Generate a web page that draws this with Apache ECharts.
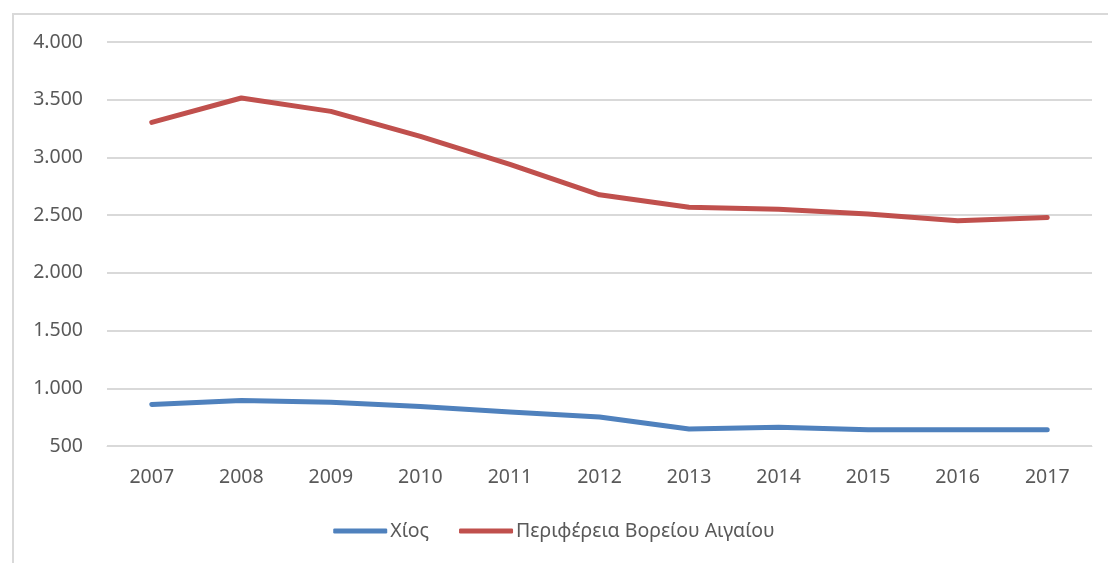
<!DOCTYPE html>
<html>
<head>
<meta charset="utf-8">
<script src="https://cdn.jsdelivr.net/npm/echarts@6/dist/echarts.min.js"></script>
<style>
  html, body { margin: 0; padding: 0; background: #fff; }
  #frame { position: absolute; left: 12px; top: 13px; right: -4px; bottom: -4px; border: 2px solid #d9d9d9; }
  #chart { position: absolute; left: 0; top: 0; width: 1108px; height: 563px; }
</style>
</head>
<body>
<div id="frame"></div>
<div id="chart"></div>
<script>
var years = ['2007', '2008', '2009', '2010', '2011', '2012', '2013', '2014', '2015', '2016', '2017'];
var chios = [860, 895, 880, 843, 794, 752, 648, 662, 640, 640, 640];
var northAegean = [3303, 3515, 3399, 3182, 2940, 2676, 2569, 2550, 2510, 2452, 2480];
var seriesNames = ['Χίος', 'Περιφέρεια Βορείου Αιγαίου'];

function fmt(v) {
    return String(v).replace(/\B(?=(\d{3})+(?!\d))/g, '.');
}

var myChart = echarts.init(document.getElementById('chart'));
var font = '"Noto Sans", sans-serif';
myChart.setOption({
    animation: false,
    grid: { left: 107, right: 16, top: 42, bottom: 117 },
    legend: {
        bottom: 17,
        left: 'center',
        itemWidth: 54,
        itemHeight: 5,
        itemGap: 30,
        icon: 'roundRect',
        textStyle: { color: '#595959', fontSize: 19.5, fontFamily: font, padding: [0, 0, 0, -2] },
        data: seriesNames
    },
    xAxis: {
        type: 'category',
        data: years,
        boundaryGap: true,
        axisLine: { lineStyle: { color: '#d9d9d9', width: 1 } },
        axisTick: { show: false },
        axisLabel: { color: '#595959', fontSize: 19.5, fontFamily: font, margin: 21 }
    },
    yAxis: {
        type: 'value',
        min: 500,
        max: 4000,
        interval: 500,
        axisLine: { show: false },
        axisTick: { show: false },
        axisLabel: { color: '#595959', fontSize: 19.5, fontFamily: font, margin: 24, formatter: fmt },
        splitLine: { lineStyle: { color: '#d9d9d9', width: 2 } }
    },
    series: [
        {
            name: seriesNames[0],
            type: 'line',
            data: chios,
            showSymbol: false,
            symbol: 'none',
            lineStyle: { color: '#4f81bd', width: 5, cap: 'round', join: 'round' },
            itemStyle: { color: '#4f81bd' }
        },
        {
            name: seriesNames[1],
            type: 'line',
            data: northAegean,
            showSymbol: false,
            symbol: 'none',
            lineStyle: { color: '#c0504d', width: 5, cap: 'round', join: 'round' },
            itemStyle: { color: '#c0504d' }
        }
    ]
});
</script>
</body>
</html>
